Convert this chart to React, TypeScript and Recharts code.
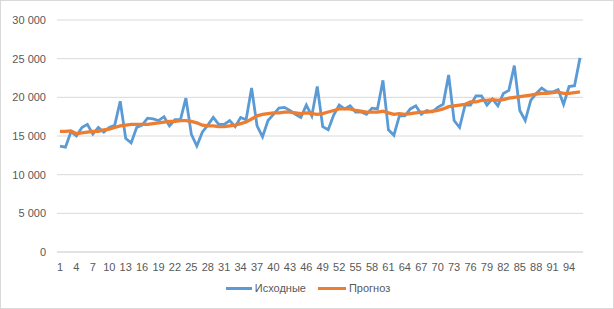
import React from "react";
import { LineChart, Line, XAxis, YAxis, CartesianGrid } from "recharts";

const periods: number[] = Array.from({ length: 96 }, (_, i) => i + 1);

const source: number[] = [
  13700, 13550, 15550, 15000, 16100, 16500, 15250, 16100, 15500, 16100,
  16400, 19500, 14700, 14100, 16100, 16400, 17300, 17200, 17000, 17500,
  16300, 17100, 17100, 19900, 15200, 13700, 15500, 16400, 17400, 16500,
  16500, 17000, 16200, 17400, 17100, 21200, 16300, 14900, 17000, 17800,
  18600, 18700, 18300, 17800, 17400, 19000, 17600, 21400, 16200, 15800,
  17700, 19000, 18500, 18900, 18100, 18100, 17800, 18600, 18500, 22200,
  15800, 15100, 17600, 17600, 18500, 18900, 17800, 18300, 18100, 18700,
  19100, 22900, 17000, 16100, 19000, 19000, 20200, 20200, 19000, 19800,
  18900, 20500, 20900, 24100, 18300, 17000, 19600, 20500, 21200, 20700,
  20700, 21000, 19100, 21400, 21500, 25100,
];

const forecast: number[] = [
  15600, 15600, 15650, 15300, 15400, 15500, 15600, 15600, 15800, 15900,
  16100, 16300, 16400, 16500, 16500, 16500, 16500, 16600, 16700, 16800,
  16900, 16900, 17000, 17000, 16900, 16700, 16400, 16300, 16300, 16200,
  16200, 16300, 16400, 16600, 16800, 17200, 17600, 17800, 17900, 18000,
  18000, 18100, 18100, 18000, 17900, 18000, 17900, 17800, 17900, 18100,
  18300, 18500, 18500, 18500, 18300, 18200, 18100, 18100, 18100, 18200,
  18000, 17800, 17900, 17800, 17900, 18000, 18100, 18100, 18200, 18300,
  18500, 18800, 18900, 19000, 19100, 19400, 19400, 19600, 19600, 19700,
  19600, 19700, 19900, 20000, 20100, 20200, 20300, 20400, 20500, 20500,
  20600, 20700, 20500, 20500, 20600, 20700,
];

const yTicks: number[] = [0, 5000, 10000, 15000, 20000, 25000, 30000];

const seriesNames = { source: "Исходные", forecast: "Прогноз" };

const data = periods.map((p, i) => ({ period: p, source: source[i], forecast: forecast[i] }));

const fmt = (v: number) => {
  const s = String(v);
  return s.length > 3 ? s.slice(0, s.length - 3) + " " + s.slice(s.length - 3) : s;
};

const FONT = "'Liberation Sans', Arial, sans-serif";

const LegendBox = () => (
  <div
    style={{
      position: "absolute",
      top: 281,
      left: 0,
      width: 614,
      display: "flex",
      justifyContent: "center",
      alignItems: "center",
      fontFamily: FONT,
      fontSize: 11,
      color: "#595959",
    }}
  >
    <div style={{ display: "flex", alignItems: "center", marginRight: 12 }}>
      <div style={{ width: 26, height: 3, background: "#5b9bd5", marginRight: 3 }} />
      <span>{seriesNames.source}</span>
    </div>
    <div style={{ display: "flex", alignItems: "center" }}>
      <div style={{ width: 28, height: 3, background: "#ed7d31", marginRight: 3 }} />
      <span>{seriesNames.forecast}</span>
    </div>
  </div>
);

export default function App() {
  return (
    <div
      style={{
        position: "absolute",
        left: 0,
        top: 0,
        width: 614,
        height: 309,
        background: "#ffffff",
        boxSizing: "border-box",
        border: "1px solid #d9d9d9",
        overflow: "hidden",
      }}
    >
      <div style={{ position: "absolute", left: -1, top: -1 }}>
        <LineChart
          width={614}
          height={309}
          data={data}
          margin={{ top: 20, right: 31, left: 0, bottom: 57 - 30 }}
        >
          <CartesianGrid horizontal vertical={false} stroke="#d9d9d9" strokeWidth={1} />
          <XAxis
            dataKey="period"
            interval={2}
            height={30}
            tickSize={0}
            tickMargin={11}
            padding={{ left: 3, right: 3 }}
            axisLine={{ stroke: "#d9d9d9" }}
            tickLine={false}
            tick={{ fill: "#595959", fontSize: 11, fontFamily: FONT }}
          />
          <YAxis
            width={57}
            domain={[0, 30000]}
            ticks={yTicks}
            tickFormatter={fmt}
            axisLine={false}
            tickLine={false}
            tickSize={0}
            tickMargin={11}
            tick={{ fill: "#595959", fontSize: 11, fontFamily: FONT }}
          />
          <Line
            type="linear"
            dataKey="source"
            name={seriesNames.source}
            stroke="#5b9bd5"
            strokeWidth={2.8}
            dot={false}
            isAnimationActive={false}
          />
          <Line
            type="linear"
            dataKey="forecast"
            name={seriesNames.forecast}
            stroke="#ed7d31"
            strokeWidth={3.3}
            dot={false}
            isAnimationActive={false}
          />
        </LineChart>
      </div>
      <LegendBox />
    </div>
  );
}
